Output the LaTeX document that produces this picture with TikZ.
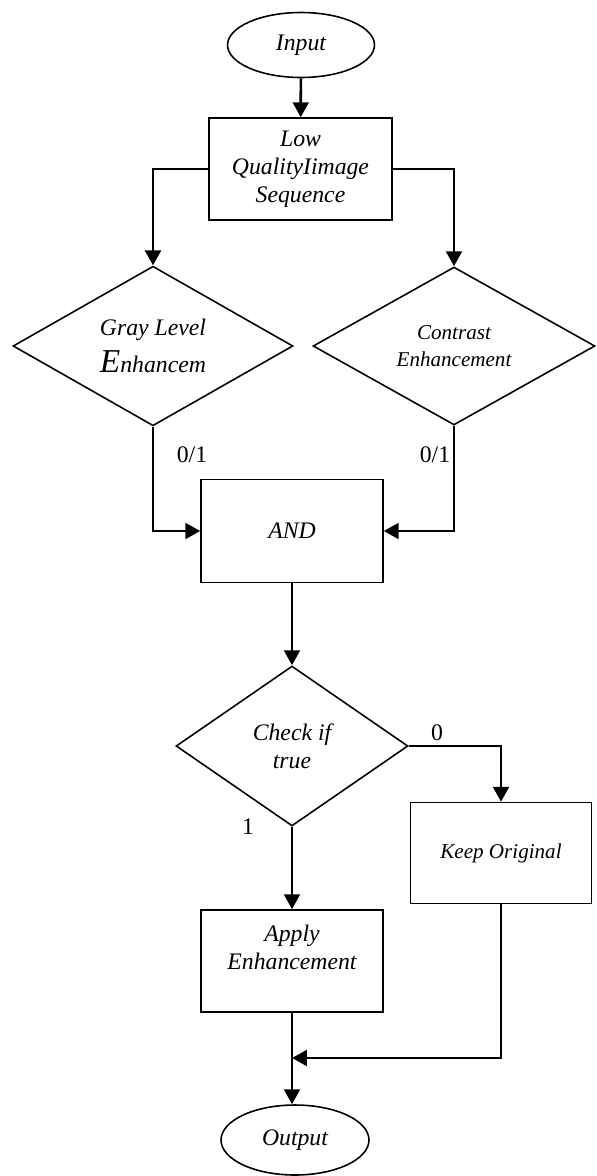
\documentclass[tikz,border=0pt]{standalone}
\usepackage{fontspec}
\setmainfont{Liberation Serif}
\usepackage{tikz}
\usetikzlibrary{arrows.meta, shapes.geometric, positioning}
\newcommand{\flowfont}{\fontsize{13.5}{16}\selectfont\itshape}
\newcommand{\smallflow}{\fontsize{12}{15}\selectfont\itshape}
\tikzset{
  blk/.style={draw, line width=0.9pt, rectangle, align=center, inner sep=2pt, font=\flowfont},
  dec/.style={draw, line width=0.9pt, diamond, align=center, inner sep=0pt, font=\flowfont},
  term/.style={draw, line width=0.9pt, ellipse, inner sep=0pt, font=\flowfont},
  lbl/.style={font=\fontsize{13.5}{16}\selectfont, inner sep=0pt},
  arr/.style={line width=1.5pt, -{Triangle[length=8.5pt, width=9pt]}}}

\begin{document}
\begin{tikzpicture}[x=0.02cm, y=-0.02cm]
\useasboundingbox (0,0) rectangle (597,1176);
% start and input sequence
\node[term, minimum width=2.94cm, minimum height=1.3cm] (in) at (301,45) {Input};
\node[blk, minimum width=3.66cm, minimum height=2.04cm] (seq) at (300.5,169) {Low\\QualityIimage\\Sequence};
% the two tests
\node[dec, minimum width=5.6cm, minimum height=3.16cm] (gray) at (153,346)
  {Gray Level\\[5pt]{\fontsize{19}{16}\selectfont E}nhancem};
\node[dec, minimum width=5.64cm, minimum height=3.16cm, font=\smallflow] (con) at (454,346)
  {Contrast\\Enhancement};
\node[blk, minimum width=3.64cm, minimum height=2.06cm] (and) at (292,531) {AND};
\node[lbl] (l1) at (192,455) {0/1};
\node[lbl] (l2) at (435,455) {0/1};
% decision
\node[dec, minimum width=4.64cm, minimum height=3.2cm] (chk) at (292,746) {Check if\\true};
\node[lbl] (l3) at (437,733) {0};
\node[lbl] (l4) at (248,827) {1};
\node[blk, minimum width=3.62cm, minimum height=2.02cm, font=\smallflow] (keep) at (501,853) {Keep Original};
\node[blk, minimum width=3.64cm, minimum height=2.04cm] (app) at (292,961) {Apply\\Enhancement\\ \mbox{}};
\node[term, minimum width=2.96cm, minimum height=1.4cm] (out) at (295,1140) {Output};
\coordinate (mrg) at (292,1058);
% connectors
\draw[arr] (in) -- (seq);
\draw[arr] (seq.west) -| (gray.north);
\draw[arr] (seq.east) -| (con.north);
\draw[arr] (gray.south) |- (and.west);
\draw[arr] (con.south) |- (and.east);
\draw[arr] (and) -- (chk);
\draw[arr] (chk.east) -| (keep.north);
\draw[arr] (chk) -- (app);
\draw[arr] (app.south) -- (app.south |- out.north);
\draw[arr] (keep.south) |- (mrg);
\end{tikzpicture}
\end{document}
